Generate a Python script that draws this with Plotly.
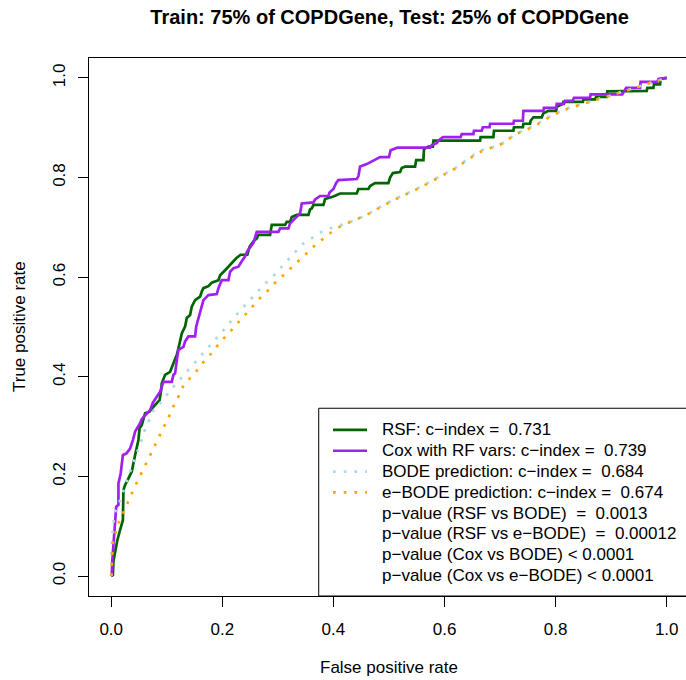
import plotly.graph_objects as go

# ---------------- data ----------------
rsf_fpr = [0.0, 0.003, 0.004, 0.007, 0.011, 0.016, 0.021, 0.022, 0.025, 0.031, 0.037, 0.043, 0.049, 0.051,
           0.055, 0.061, 0.069, 0.076, 0.082, 0.087, 0.090, 0.091, 0.097, 0.106, 0.112, 0.118, 0.121, 0.125,
           0.127, 0.133, 0.136, 0.142, 0.145, 0.151, 0.160, 0.163, 0.166, 0.175, 0.181, 0.193, 0.196, 0.205,
           0.211, 0.225, 0.233, 0.245, 0.249, 0.256, 0.262, 0.265, 0.286, 0.289, 0.313, 0.316, 0.322, 0.325,
           0.334, 0.355, 0.358, 0.361, 0.364, 0.382, 0.385, 0.400, 0.412, 0.442, 0.445, 0.463, 0.466, 0.475,
           0.499, 0.502, 0.507, 0.520, 0.523, 0.529, 0.547, 0.549, 0.562, 0.563, 0.571, 0.579, 0.580, 0.664,
           0.665, 0.688, 0.689, 0.724, 0.725, 0.741, 0.742, 0.754, 0.755, 0.760, 0.775, 0.778, 0.787, 0.801,
           0.802, 0.813, 0.814, 0.849, 0.850, 0.871, 0.873, 0.892, 0.893, 0.920, 0.930, 0.964, 0.965, 0.976,
           0.977, 0.988, 0.989, 1.0]
rsf_tpr = [0.0, 0.002, 0.030, 0.052, 0.072, 0.093, 0.112, 0.173, 0.183, 0.196, 0.210, 0.243, 0.273, 0.297,
           0.303, 0.327, 0.330, 0.340, 0.347, 0.353, 0.374, 0.387, 0.404, 0.410, 0.427, 0.444, 0.457, 0.474,
           0.487, 0.501, 0.518, 0.524, 0.541, 0.554, 0.561, 0.571, 0.578, 0.582, 0.589, 0.594, 0.604, 0.614,
           0.621, 0.638, 0.645, 0.645, 0.661, 0.672, 0.678, 0.685, 0.685, 0.705, 0.705, 0.711, 0.711, 0.721,
           0.725, 0.725, 0.736, 0.738, 0.745, 0.745, 0.757, 0.762, 0.768, 0.768, 0.777, 0.777, 0.783, 0.789,
           0.789, 0.800, 0.809, 0.811, 0.819, 0.822, 0.822, 0.835, 0.835, 0.857, 0.862, 0.862, 0.874, 0.874,
           0.881, 0.881, 0.894, 0.894, 0.901, 0.901, 0.908, 0.908, 0.914, 0.921, 0.921, 0.929, 0.934, 0.934,
           0.942, 0.948, 0.952, 0.952, 0.957, 0.957, 0.962, 0.962, 0.973, 0.973, 0.974, 0.974, 0.980, 0.980,
           0.987, 0.987, 0.998, 1.0]

cox_fpr = [0.0, 0.001, 0.002, 0.005, 0.008, 0.009, 0.013, 0.013, 0.017, 0.021, 0.027, 0.034, 0.039, 0.043,
           0.052, 0.055, 0.061, 0.070, 0.075, 0.081, 0.088, 0.094, 0.109, 0.112, 0.115, 0.119, 0.121, 0.130,
           0.133, 0.139, 0.151, 0.153, 0.157, 0.163, 0.166, 0.175, 0.190, 0.193, 0.199, 0.211, 0.214, 0.220,
           0.229, 0.235, 0.241, 0.245, 0.250, 0.256, 0.262, 0.301, 0.304, 0.319, 0.322, 0.328, 0.334, 0.340,
           0.343, 0.364, 0.367, 0.376, 0.391, 0.393, 0.400, 0.405, 0.409, 0.442, 0.445, 0.448, 0.460, 0.471,
           0.484, 0.500, 0.503, 0.515, 0.574, 0.577, 0.586, 0.591, 0.597, 0.629, 0.631, 0.652, 0.653, 0.667,
           0.669, 0.681, 0.682, 0.724, 0.725, 0.741, 0.742, 0.778, 0.779, 0.801, 0.802, 0.815, 0.817, 0.831,
           0.833, 0.862, 0.863, 0.920, 0.925, 0.927, 0.952, 0.953, 0.983, 0.985, 1.0]
cox_tpr = [0.0, 0.002, 0.032, 0.079, 0.106, 0.139, 0.143, 0.186, 0.206, 0.243, 0.246, 0.256, 0.273, 0.290,
           0.307, 0.315, 0.323, 0.333, 0.348, 0.359, 0.370, 0.390, 0.390, 0.404, 0.407, 0.440, 0.454, 0.460,
           0.471, 0.481, 0.481, 0.501, 0.518, 0.538, 0.554, 0.564, 0.566, 0.578, 0.594, 0.594, 0.611, 0.618,
           0.621, 0.632, 0.642, 0.652, 0.661, 0.669, 0.691, 0.691, 0.698, 0.698, 0.708, 0.715, 0.721, 0.728,
           0.748, 0.750, 0.756, 0.763, 0.763, 0.770, 0.777, 0.789, 0.795, 0.797, 0.803, 0.822, 0.827, 0.834,
           0.841, 0.841, 0.855, 0.860, 0.860, 0.865, 0.869, 0.876, 0.881, 0.881, 0.887, 0.887, 0.894, 0.894,
           0.901, 0.901, 0.908, 0.908, 0.914, 0.914, 0.934, 0.934, 0.940, 0.940, 0.948, 0.948, 0.954, 0.954,
           0.960, 0.960, 0.967, 0.967, 0.975, 0.980, 0.980, 0.992, 0.992, 0.998, 1.0]

bode_fpr = [0.0, 0.001, 0.002, 0.004, 0.005, 0.013, 0.019, 0.025, 0.031, 0.037, 0.043, 0.049, 0.055, 0.061,
            0.069, 0.076, 0.088, 0.100, 0.112, 0.124, 0.136, 0.148, 0.160, 0.172, 0.184, 0.196, 0.208, 0.220,
            0.232, 0.245, 0.257, 0.269, 0.281, 0.295, 0.307, 0.319, 0.331, 0.345, 0.358, 0.373, 0.391, 0.410,
            0.424, 0.460, 0.490, 0.520, 0.553, 0.586, 0.619, 0.649, 0.667, 0.700, 0.730, 0.760, 0.778, 0.796,
            0.811, 0.826, 0.844, 0.862, 0.880, 0.898, 0.916, 0.934, 0.952, 0.967, 0.985, 1.0]
bode_tpr = [0.0, 0.040, 0.082, 0.102, 0.123, 0.143, 0.163, 0.183, 0.200, 0.218, 0.236, 0.257, 0.274, 0.295,
            0.315, 0.332, 0.347, 0.364, 0.380, 0.395, 0.410, 0.426, 0.440, 0.455, 0.471, 0.486, 0.501, 0.518,
            0.533, 0.548, 0.562, 0.578, 0.591, 0.606, 0.621, 0.636, 0.651, 0.667, 0.676, 0.688, 0.697, 0.703,
            0.708, 0.725, 0.745, 0.762, 0.779, 0.799, 0.819, 0.843, 0.855, 0.865, 0.889, 0.903, 0.915, 0.927,
            0.934, 0.941, 0.947, 0.952, 0.959, 0.964, 0.971, 0.977, 0.984, 0.989, 0.995, 1.0]

ebode_fpr = [0.0, 0.001, 0.002, 0.002, 0.007, 0.011, 0.019, 0.027, 0.034, 0.041, 0.049, 0.057, 0.065, 0.073,
             0.081, 0.089, 0.097, 0.105, 0.112, 0.121, 0.127, 0.139, 0.151, 0.163, 0.175, 0.187, 0.199, 0.211,
             0.223, 0.235, 0.247, 0.259, 0.271, 0.285, 0.297, 0.310, 0.324, 0.337, 0.351, 0.364, 0.376, 0.391,
             0.406, 0.424, 0.460, 0.490, 0.520, 0.553, 0.586, 0.619, 0.649, 0.667, 0.700, 0.730, 0.760, 0.778,
             0.796, 0.811, 0.826, 0.844, 0.862, 0.880, 0.898, 0.916, 0.934, 0.952, 0.967, 0.985, 1.0]
ebode_tpr = [0.0, 0.022, 0.042, 0.062, 0.082, 0.102, 0.120, 0.139, 0.158, 0.176, 0.194, 0.213, 0.232, 0.250,
             0.268, 0.287, 0.305, 0.323, 0.341, 0.360, 0.377, 0.394, 0.408, 0.426, 0.440, 0.457, 0.473, 0.487,
             0.502, 0.518, 0.533, 0.548, 0.562, 0.576, 0.591, 0.604, 0.618, 0.631, 0.647, 0.661, 0.673, 0.686,
             0.698, 0.708, 0.725, 0.744, 0.761, 0.778, 0.798, 0.818, 0.841, 0.853, 0.866, 0.888, 0.902, 0.914,
             0.926, 0.933, 0.940, 0.946, 0.952, 0.958, 0.964, 0.970, 0.977, 0.983, 0.989, 0.995, 1.0]

x_ticks = [0.0, 0.2, 0.4, 0.6, 0.8, 1.0]
x_tick_labels = ["0.0", "0.2", "0.4", "0.6", "0.8", "1.0"]
y_ticks = [0.0, 0.2, 0.4, 0.6, 0.8, 1.0]
y_tick_labels = ["0.0", "0.2", "0.4", "0.6", "0.8", "1.0"]

legend_labels = [
    "RSF: c−index =\u00a0 0.731",
    "Cox with RF vars: c−index =\u00a0 0.739",
    "BODE prediction: c−index =\u00a0 0.684",
    "e−BODE prediction: c−index =\u00a0 0.674",
    "p−value (RSF vs BODE)\u00a0 =\u00a0 0.0013",
    "p−value (RSF vs e−BODE)\u00a0 =\u00a0 0.00012",
    "p−value (Cox vs BODE) < 0.0001",
    "p−value (Cox vs e−BODE) < 0.0001",
]

# ---------------- styling ----------------
FONT = "Liberation Sans, Arial, Helvetica, sans-serif"
FS = 17
GREEN = "#006400"
PURPLE = "#A020F0"
LBLUE = "#ADD8E6"
ORANGE = "#FFA500"
DOT = "2.7px,8px"

series = [
    (rsf_fpr, rsf_tpr, GREEN, "solid"),
    (cox_fpr, cox_tpr, PURPLE, "solid"),
    (bode_fpr, bode_tpr, LBLUE, DOT),
    (ebode_fpr, ebode_tpr, ORANGE, DOT),
]

fig = go.Figure()
for xs, ys, col, dash in series:
    fig.add_trace(go.Scatter(x=xs, y=ys, mode="lines",
                             line=dict(color=col, width=2.7, dash=dash),
                             showlegend=False, hoverinfo="skip"))

W, H = 686, 680
ML, MT, MB = 89, 58, 84
px_per_unit_x = 555.5
x_left = -0.04
x_right = x_left + (W - ML) / px_per_unit_x

fig.update_layout(
    width=W, height=H,
    margin=dict(l=ML, r=0, t=MT, b=MB),
    paper_bgcolor="white", plot_bgcolor="white",
    font=dict(family=FONT, size=FS, color="black"),
    title=dict(text="<b>Train: 75% of COPDGene, Test: 25% of COPDGene</b>",
               x=0.568, xanchor="center", y=1 - 16.7 / H, yanchor="middle",
               font=dict(family=FONT, size=20, color="black")),
    showlegend=False,
)
fig.update_xaxes(range=[x_left, x_right], showgrid=False, zeroline=False,
                 showline=True, linecolor="black", linewidth=1, mirror=True,
                 ticks="outside", ticklen=10, tickwidth=1, tickcolor="black",
                 tickvals=x_ticks, ticktext=x_tick_labels, ticklabelstandoff=8,
                 tickfont=dict(family=FONT, size=FS, color="black"))
fig.update_yaxes(range=[-0.04, 1.04], showgrid=False, zeroline=False,
                 showline=True, linecolor="black", linewidth=1, mirror=False,
                 ticks="outside", ticklen=10, tickwidth=1, tickcolor="black",
                 tickvals=y_ticks, ticktext=y_tick_labels, tickangle=-90, ticklabelstandoff=6,
                 tickfont=dict(family=FONT, size=FS, color="black"))

# axis titles
fig.add_annotation(text="False positive rate", xref="paper", yref="paper",
                   x=(388.5 - ML) / (W - ML), y=(596 - 667) / 538,
                   xanchor="center", yanchor="middle", showarrow=False,
                   font=dict(family=FONT, size=FS, color="black"))
fig.add_annotation(text="True positive rate", xref="paper", yref="paper",
                   x=(19 - ML) / (W - ML), y=0.5, textangle=-90,
                   xanchor="center", yanchor="middle", showarrow=False,
                   font=dict(family=FONT, size=FS, color="black"))

# legend box (drawn manually, R-style)
def px2x(p):
    return (p - 111.2) / px_per_unit_x

def py2y(p):
    return (576.1 - p) / 498.1

fig.add_shape(type="rect", xref="x", yref="y",
              x0=px2x(318.7), x1=1.1, y0=-0.04, y1=py2y(408.3),
              line=dict(color="black", width=1), fillcolor="white", layer="above")

styles = [(GREEN, "solid"), (PURPLE, "solid"), (LBLUE, DOT), (ORANGE, DOT)]
for i, lab in enumerate(legend_labels):
    py = 430 + i * 20.8
    if i < len(styles):
        col, dash = styles[i]
        fig.add_shape(type="line", xref="x", yref="y",
                      x0=px2x(333), x1=px2x(367), y0=py2y(py), y1=py2y(py),
                      line=dict(color=col, width=2.7, dash=dash), layer="above")
    fig.add_annotation(text=lab, xref="x", yref="y", x=px2x(381.7), y=py2y(py),
                       xanchor="left", yanchor="middle", showarrow=False, xshift=-2,
                       font=dict(family=FONT, size=FS, color="black"))

fig.write_html("out.html")
